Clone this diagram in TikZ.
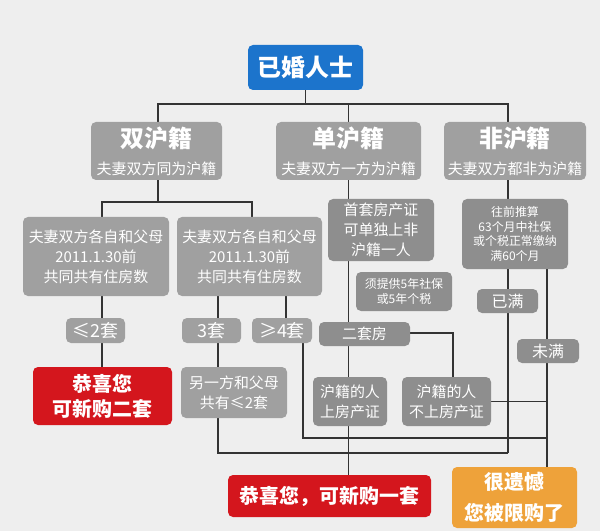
\documentclass[tikz,border=0pt]{standalone}
\usepackage{fontspec}
\setmainfont{Noto Sans CJK SC}
\pgfdeclarelayer{bottomlayer}
\pgfdeclarelayer{linelayer}
\pgfsetlayers{bottomlayer,linelayer,main}
\definecolor{bgc}{HTML}{EEEEEE}
\definecolor{bluec}{HTML}{1C74CC}
\definecolor{redc}{HTML}{D4161D}
\definecolor{orangec}{HTML}{EEA23A}
\definecolor{grayA}{HTML}{A0A0A0}
\definecolor{grayB}{HTML}{8E8E8E}
\definecolor{linec}{HTML}{333333}
\newcommand\mybox[7]{%
  \node[#6, minimum width={(#4-#2)*1bp}, minimum height={(#5-#3)*1bp}]
    (#1) at ({(#2+#4)/2},{(#3+#5)/2}) {#7};}
\tikzset{
  base/.style={rounded corners=5bp, inner sep=0pt, align=center, text=white},
  bluebox/.style={base, fill=bluec, font=\fontsize{24}{28}\selectfont\bfseries},
  lvtwo/.style={base, fill=grayA, font=\fontsize{15}{27}\selectfont},
  lvthree/.style={base, fill=grayA, font=\fontsize{15}{20}\selectfont},
  count/.style={base, fill=grayA, font=\fontsize{18}{20}\selectfont},
  dkbox/.style={base, fill=grayB, font=\fontsize{15}{20}\selectfont},
  smallbox/.style={base, fill=grayB, font=\fontsize{12}{14.5}\selectfont},
  tagbox/.style={base, fill=grayB, font=\fontsize{16}{18}\selectfont},
  redbox/.style={base, fill=redc, font=\fontsize{20}{25}\selectfont\bfseries},
  orbox/.style={base, fill=orangec, font=\fontsize{20}{31}\selectfont\bfseries},
  conn/.style={draw=linec, line width=1.8bp}
}
\begin{document}
\begin{tikzpicture}[x=1bp, y=-1bp]
\useasboundingbox (0,0) rectangle (600,531);
\begin{pgfonlayer}{bottomlayer}
\fill[bgc] (0,0) rectangle (600,531);
\end{pgfonlayer}
% nodes
\mybox{root}{248}{45}{363}{90}{bluebox}{已婚人士}
\mybox{sh2}{91}{122}{222}{180}{lvtwo}{{\fontsize{24}{26}\selectfont\bfseries 双沪籍}\\夫妻双方同为沪籍}
\mybox{sh1}{276}{122}{421}{180}{lvtwo}{{\fontsize{24}{26}\selectfont\bfseries 单沪籍}\\夫妻双方一方为沪籍}
\mybox{sh0}{444}{122}{586}{180}{lvtwo}{{\fontsize{24}{26}\selectfont\bfseries 非沪籍}\\夫妻双方都非为沪籍}
\mybox{a}{23}{217}{169}{296}{lvthree}{夫妻双方各自和父母\\2011.1.30前\\共同共有住房数}
\mybox{b}{177}{217}{322}{296}{lvthree}{夫妻双方各自和父母\\2011.1.30前\\共同共有住房数}
\mybox{le2}{66}{318}{125}{343}{count}{≤2套}
\mybox{t3}{182}{318}{241}{343}{count}{3套}
\mybox{ge4}{252}{318}{312}{343}{count}{≥4套}
\mybox{r2}{33}{367}{172}{425}{redbox}{恭喜您\\可新购二套}
\mybox{other}{181}{367}{287}{418}{lvthree}{另一方和父母\\共有≤2套}
\mybox{first}{328}{199}{434}{261}{dkbox}{首套房产证\\可单独上非\\沪籍一人}
\mybox{note}{356}{272}{452}{311}{smallbox}{须提供5年社保\\或5年个税}
\mybox{calc}{462}{199}{568}{269}{smallbox}{往前推算\\63个月中社保\\或个税正常缴纳\\满60个月}
\mybox{full}{477}{289}{538}{313}{tagbox}{已满}
\mybox{notfull}{517}{339}{579}{363}{tagbox}{未满}
\mybox{second}{319}{322}{410}{346}{dkbox}{二套房}
\mybox{up}{313}{377}{387}{426}{dkbox}{沪籍的人\\上房产证}
\mybox{noup}{402}{377}{491}{426}{dkbox}{沪籍的人\\不上房产证}
\mybox{r1}{228}{475}{431}{517}{redbox}{恭喜您，可新购一套}
\mybox{sorry}{452}{467}{577}{528}{orbox}{很遗憾\\您被限购了}
% helper coordinates
\coordinate (bus1) at (0,104);
\coordinate (bus2) at (0,202);
\coordinate (bus3) at (0,438);
\coordinate (bus4) at (0,453);
\coordinate (sh2in) at (158,180);
\coordinate (sh0in) at (508,122);
\coordinate (ain) at (102,217);
\coordinate (bin) at (252,217);
\coordinate (bl) at (218,296);
\coordinate (br) at (286,296);
\coordinate (geo) at (303,343);
\coordinate (calcl) at (508,269);
\coordinate (calcr) at (547,269);
\coordinate (sec) at (453,333);
\begin{pgfonlayer}{linelayer}
\draw[conn] (root.south) -- (root.south |- bus1);
\draw[conn] (sh2in |- sh2.north) -- (sh2in |- bus1) -- (sh0in |- bus1) -- (sh0in);
\draw[conn] (sh1.north |- bus1) -- (sh1.north);
\draw[conn] (sh2in) -- (sh2in |- bus2);
\draw[conn] (ain) -- (ain |- bus2) -- (bin |- bus2) -- (bin);
\draw[conn] (ain |- a.south) -- (ain |- r2.north);
\draw[conn] (bl) -- (bl |- other.north);
\draw[conn] (br) -- (br |- ge4.north);
\draw[conn] (geo) -- (geo |- bus3) -- (calcr |- bus3);
\draw[conn] (bl |- other.south) -- (bl |- bus4) -- (calcl |- bus4);
\draw[conn] (sh1.south) -- (sh1.south |- r1.north);
\draw[conn] (second.east |- sec) -- (sec) -- (sec |- noup.north);
\draw[conn] (noup.east) -- (calcr |- noup.east);
\draw[conn] (sh0in |- sh0.south) -- (sh0in |- calc.north);
\draw[conn] (calcl) -- (calcl |- bus4);
\draw[conn] (calcr) -- (calcr |- sorry.north);
\end{pgfonlayer}
\end{tikzpicture}
\end{document}
